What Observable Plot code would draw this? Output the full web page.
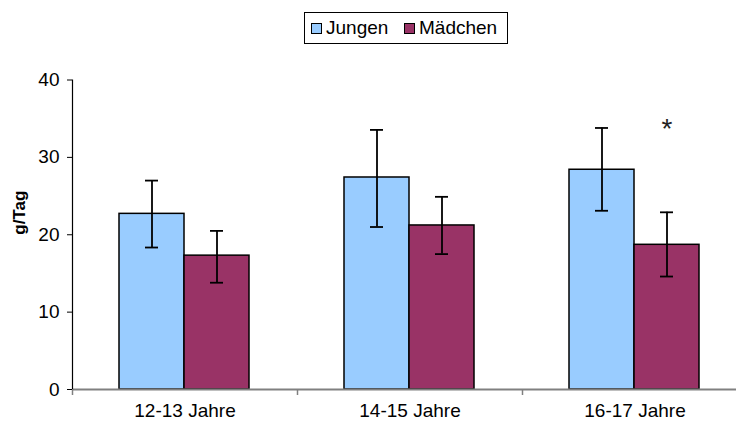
<!DOCTYPE html>
<html>
<head>
<meta charset="utf-8">
<script src="https://cdn.jsdelivr.net/npm/d3@7"></script>
<script src="https://cdn.jsdelivr.net/npm/@observablehq/plot@0.6"></script>
<style>
  html, body { margin: 0; padding: 0; background: #fff; }
  body { width: 736px; height: 428px; overflow: hidden; font-family: "Liberation Sans", Arial, sans-serif; }
  #legend { position: relative; height: 50px; }
  #legend .box { position: absolute; left: 304px; top: 12px; width: 204px; height: 32px; box-sizing: border-box; border: 1px solid #000; }
  #legend .item { position: absolute; top: 0; height: 30px; display: flex; align-items: center; font-size: 19px; color: #000; }
  #legend .sw { width: 11px; height: 11px; box-sizing: border-box; border: 1px solid #000; margin-right: 4px; }
</style>
</head>
<body>
<div id="legend"></div>
<div id="chart"></div>
<script>
const categories = ["12-13 Jahre", "14-15 Jahre", "16-17 Jahre"];
const series = ["Jungen", "Mädchen"];
const colors = ["#99CCFF", "#993366"];
const jungenMean = [22.7, 27.4, 28.4];
const jungenLow = [18.35, 21.0, 23.1];
const jungenHigh = [27.0, 33.55, 33.8];
const maedchenMean = [17.3, 21.2, 18.7];
const maedchenLow = [13.8, 17.5, 14.6];
const maedchenHigh = [20.5, 24.9, 22.9];
const yTicks = [0, 10, 20, 30, 40];
const yLabel = "g/Tag";
const annotations = [{group: "16-17 Jahre", series: "Mädchen", y: 33.7, label: "*"}];

const jungen = categories.map((g, i) => ({group: g, series: "Jungen", mean: jungenMean[i], low: jungenLow[i], high: jungenHigh[i]}));
const maedchen = categories.map((g, i) => ({group: g, series: "Mädchen", mean: maedchenMean[i], low: maedchenLow[i], high: maedchenHigh[i]}));

// legend
const legend = document.getElementById("legend");
const box = document.createElement("div");
box.className = "box";
const lx = [6, 99];
series.forEach((s, i) => {
  const it = document.createElement("div");
  it.className = "item";
  it.style.left = lx[i] + "px";
  const sw = document.createElement("span");
  sw.className = "sw";
  sw.style.background = colors[i];
  it.appendChild(sw);
  it.appendChild(document.createTextNode(s));
  box.appendChild(it);
});
legend.appendChild(box);

const font = "'Liberation Sans', Arial, sans-serif";
const chart = Plot.plot({
  width: 736,
  height: 378,
  marginTop: 29.5,
  marginBottom: 39,
  marginLeft: 72,
  marginRight: 0,
  style: {fontFamily: font, fontSize: "19px", color: "#000", background: "#fff", overflow: "hidden"},
  x: {domain: categories, range: [72, 747], padding: 0},
  y: {domain: [0, 40], range: [339, 29.5]},
  marks: [
    Plot.barY(jungen, {x: "group", y: "mean", fill: colors[0], stroke: "#000", strokeWidth: 1.5, insetLeft: 47, insetRight: 113}),
    Plot.barY(maedchen, {x: "group", y: "mean", fill: colors[1], stroke: "#000", strokeWidth: 1.5, insetLeft: 112, insetRight: 48}),
    Plot.ruleX(jungen, {x: "group", y1: "low", y2: "high", dx: -33, stroke: "#000", strokeWidth: 1.8}),
    Plot.ruleX(maedchen, {x: "group", y1: "low", y2: "high", dx: 32, stroke: "#000", strokeWidth: 1.8}),
    Plot.tickY(jungen, {x: "group", y: "high", insetLeft: 73, insetRight: 139, stroke: "#000", strokeWidth: 1.8}),
    Plot.tickY(jungen, {x: "group", y: "low", insetLeft: 73, insetRight: 139, stroke: "#000", strokeWidth: 1.8}),
    Plot.tickY(maedchen, {x: "group", y: "high", insetLeft: 138, insetRight: 74, stroke: "#000", strokeWidth: 1.8}),
    Plot.tickY(maedchen, {x: "group", y: "low", insetLeft: 138, insetRight: 74, stroke: "#000", strokeWidth: 1.8}),
    Plot.ruleY([0], {stroke: "#808080", strokeWidth: 2}),
    Plot.frame({anchor: "left", stroke: "#000", strokeWidth: 1.2}),
    Plot.axisX({tickSize: 6, dx: -112.5, tickFormat: () => "", label: null, stroke: "#808080", strokeWidth: 1.5}),
    Plot.axisX({tickSize: 0, tickPadding: 14, label: null, fontSize: 19, fill: "#000"}),
    Plot.axisY({ticks: yTicks, tickSize: 5, tickPadding: 8, label: null, fontSize: 19, fill: "#000", stroke: "#000"}),
    Plot.text(annotations, {x: "group", y: "y", text: "label", dx: 32, fontSize: 28, fontWeight: "lighter", fill: "#222"}),
    Plot.text([yLabel], {frameAnchor: "left", dx: -53, rotate: -90, fontWeight: "bold", fontSize: 17, fill: "#000"})
  ]
});
document.getElementById("chart").appendChild(chart);
</script>
</body>
</html>
